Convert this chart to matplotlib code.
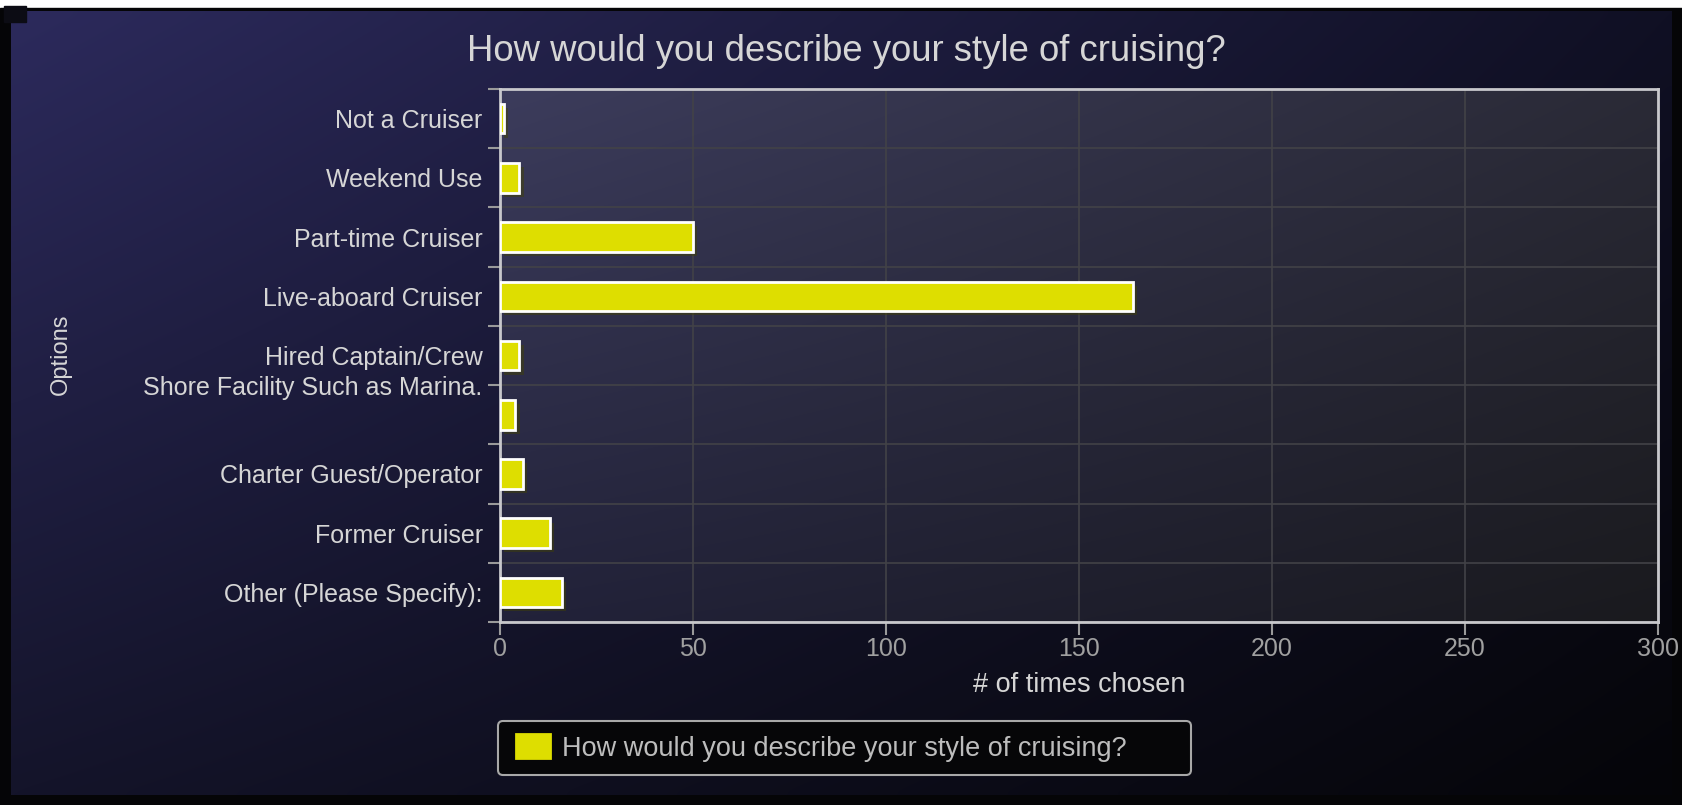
import matplotlib
matplotlib.use("Agg")
import matplotlib.pyplot as plt
import matplotlib.patheffects as pe
from matplotlib.patches import FancyBboxPatch
import numpy as np

plt.rcParams["font.family"] = ["Liberation Sans", "DejaVu Sans"]

options = [
    "Not a Cruiser",
    "Weekend Use",
    "Part-time Cruiser",
    "Live-aboard Cruiser",
    "Hired Captain/Crew",
    "Shore Facility Such as Marina.",
    "Charter Guest/Operator",
    "Former Cruiser",
    "Other (Please Specify):",
]
times_chosen = [1, 5, 50, 164, 5, 4, 6, 13, 16]
x_ticks = [0, 50, 100, 150, 200, 250, 300]

question = "How would you describe your style of cruising?"
text_col = "#d6d6d6"
# the long option wraps onto a second (empty) line, so it sits higher
wrapped = "Shore Facility Such as Marina."


def gradient(h, w, tl, tr, bl, br):
    """Bilinear colour blend between four corner colours."""
    yy, xx = np.mgrid[0:1:h * 1j, 0:1:w * 1j]
    c = [np.array(v, dtype=float) / 255 for v in (tl, tr, bl, br)]
    top = c[0] * (1 - xx[..., None]) + c[1] * xx[..., None]
    bot = c[2] * (1 - xx[..., None]) + c[3] * xx[..., None]
    return top * (1 - yy[..., None]) + bot * yy[..., None]


fig = plt.figure(figsize=(16.82, 8.05), dpi=100, facecolor="white")

# dark page behind the chart
bg = fig.add_axes([0, 0, 1, 1], zorder=-5)
bg.add_patch(plt.Rectangle((0, 8), 1682, 797, color="#050507", zorder=1))
bg.imshow(gradient(100, 200, (44, 42, 92), (16, 16, 36), (20, 20, 42), (5, 5, 9)),
          extent=(11, 1672, 795, 12), aspect="auto", interpolation="bicubic",
          zorder=2)
bg.add_patch(plt.Rectangle((4, 6), 22, 16, color="#0c0c14", zorder=3))
# legend box sits on the page, wider than its contents
bg.add_patch(FancyBboxPatch((498, 721), 693, 54,
                            boxstyle="round,pad=0,rounding_size=5",
                            facecolor="#060608", edgecolor="#a8a8a8",
                            linewidth=1.5, zorder=4))
bg.set_xlim(0, 1682)
bg.set_ylim(805, 0)
bg.axis("off")

ax = fig.add_axes([0.2973, 0.2273, 0.6885, 0.6621])
ax.set_facecolor("none")
ax.imshow(gradient(100, 200, (60, 60, 92), (42, 42, 54), (34, 34, 58), (26, 26, 30)),
          extent=(0, 300, 8.5, -0.5), aspect="auto", interpolation="bicubic",
          zorder=-1)

ypos = np.arange(len(options))
bars = ax.barh(ypos, times_chosen, height=0.5, color="#dede00",
               edgecolor="white", linewidth=2, zorder=3, label=question)
for b in bars:
    b.set_path_effects([pe.SimplePatchShadow(offset=(3, -3), alpha=0.45),
                        pe.Normal()])

ax.set_xlim(0, 300)
ax.set_ylim(8.5, -0.5)
ax.set_xticks(x_ticks)
ax.set_yticks(ypos)
ax.set_yticklabels(["" if o == wrapped else o for o in options])
ax.set_yticks(np.arange(-0.5, 9, 1), minor=True)

ax.tick_params(axis="y", which="major", length=0, pad=12.5,
               labelsize=18, labelcolor=text_col)
ax.tick_params(axis="y", which="minor", length=9, width=1.5, color="#9a9a9a")
ax.tick_params(axis="x", length=9, width=1.5, color="#9a9a9a",
               labelsize=18, labelcolor="#a0a0a0", pad=2)
ax.annotate(wrapped, xy=(0, options.index(wrapped)),
            xycoords=ax.get_yaxis_transform(), xytext=(-12.5, 19.5),
            textcoords="offset points", ha="right", va="center",
            fontsize=18, color=text_col, annotation_clip=False)

ax.grid(axis="x", which="major", color="#424247", linewidth=1.2)
ax.grid(axis="y", which="minor", color="#424247", linewidth=1.2)
ax.set_axisbelow(True)
for s in ax.spines.values():
    s.set_color("#c8c8cc")
    s.set_linewidth(2)

ax.set_xlabel("# of times chosen", fontsize=19.5, color=text_col, labelpad=8)
fig.text(0.036, 0.56, "Options", rotation=90, fontsize=17, color=text_col,
         ha="center", va="center")
fig.text(0.503, 0.936, question, fontsize=26.3, color=text_col,
         ha="center", va="center")

leg = fig.legend(loc="center left", bbox_to_anchor=(0.3068, 0.071),
                 fontsize=19.5, frameon=False, handlelength=1.25,
                 handleheight=1.0, borderpad=0, borderaxespad=0,
                 handletextpad=0.45)
for t in leg.get_texts():
    t.set_color("#bdbdbd")
for h in leg.legend_handles:
    h.set_edgecolor("#dede00")
    h.set_path_effects([])

fig.savefig("out.png", dpi=100, facecolor=fig.get_facecolor())
